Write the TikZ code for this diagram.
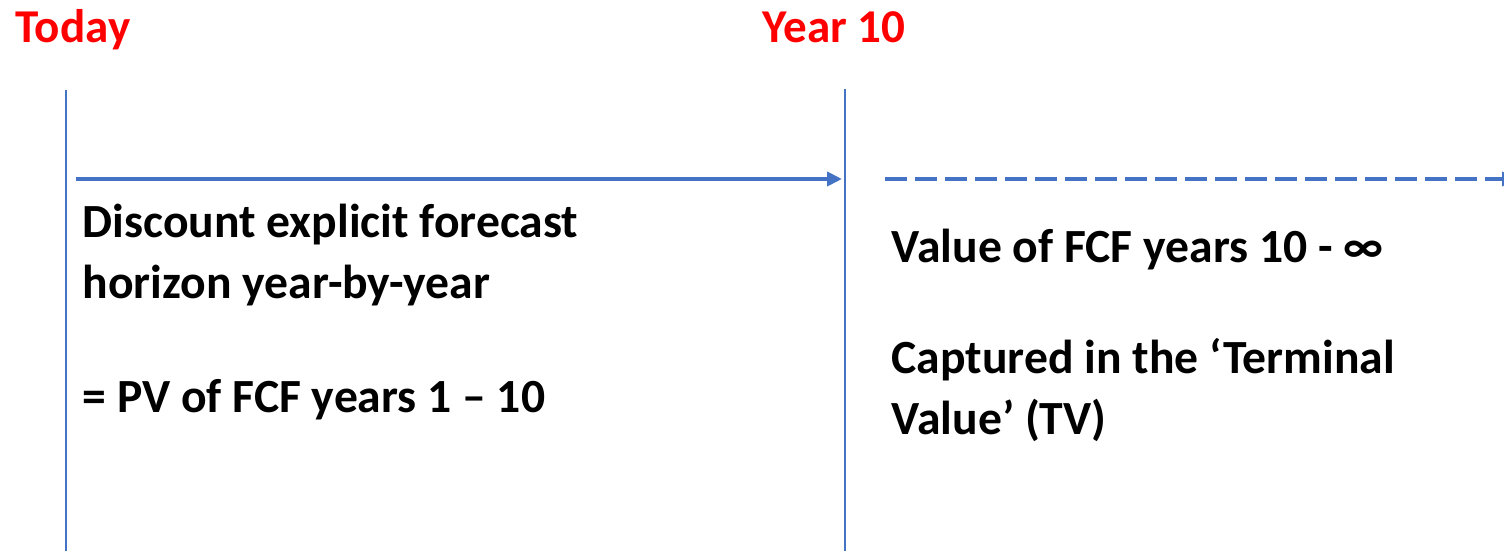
\documentclass[tikz,border=0pt]{standalone}
\usepackage{fontspec}
\setmainfont{Carlito}
\usepackage{xcolor}
\usetikzlibrary{positioning,calc,arrows.meta}

\definecolor{lineblue}{HTML}{4472C4}
\definecolor{markred}{HTML}{FF0000}

\begin{document}
\begin{tikzpicture}[>={Triangle[length=0.15cm,width=0.14cm]},
        mark label/.style={anchor=base west, inner sep=0pt, text=markred,
            font=\fontsize{13.4}{16}\selectfont\bfseries},
        body text/.style={anchor=base west, inner sep=0pt, align=left,
            font=\fontsize{13.55}{17.3}\selectfont\bfseries},
        time line/.style={draw=lineblue, line width=0.5pt},
        period line/.style={draw=lineblue, line width=1.1pt}]

\useasboundingbox (0,0) rectangle (15.04,5.51);

\node[mark label] (today) at (0.15,5.08) {Today};
\node[mark label] (year10) at (7.62,5.08) {Year 10};

\coordinate (t0 top) at (0.66,4.61);
\coordinate (t0 bot) at (0.66,0);
\coordinate (t10 top) at (8.45,4.62);
\coordinate (t10 bot) at (8.45,0);

\draw[time line] (t0 top) -- (t0 bot);
\draw[time line] (t10 top) -- (t10 bot);

\coordinate (expl start) at (0.76,3.72);
\coordinate (expl end) at (8.42,3.72);
\coordinate (tv start) at (8.85,3.72);
\coordinate (tv end) at (15.17,3.72);

\draw[period line, ->] (expl start) -- (expl end);
\draw[period line, ->, dash pattern=on 0.22cm off 0.08cm] (tv start) -- (tv end);

% multi-line nodes: base is the last line
\node[body text] (explicit) at (0.82,2.53) {Discount explicit forecast\\horizon year-by-year};
\node[body text] (pv) at (0.82,1.39) {= PV of FCF years 1 – 10};

\node[body text] (tvrange) at (8.91,2.89) {Value of FCF years 10 - ∞};
\node[body text] (tvtext) at (8.91,1.17) {Captured in the ‘Terminal\\Value’ (TV)};

\end{tikzpicture}
\end{document}
